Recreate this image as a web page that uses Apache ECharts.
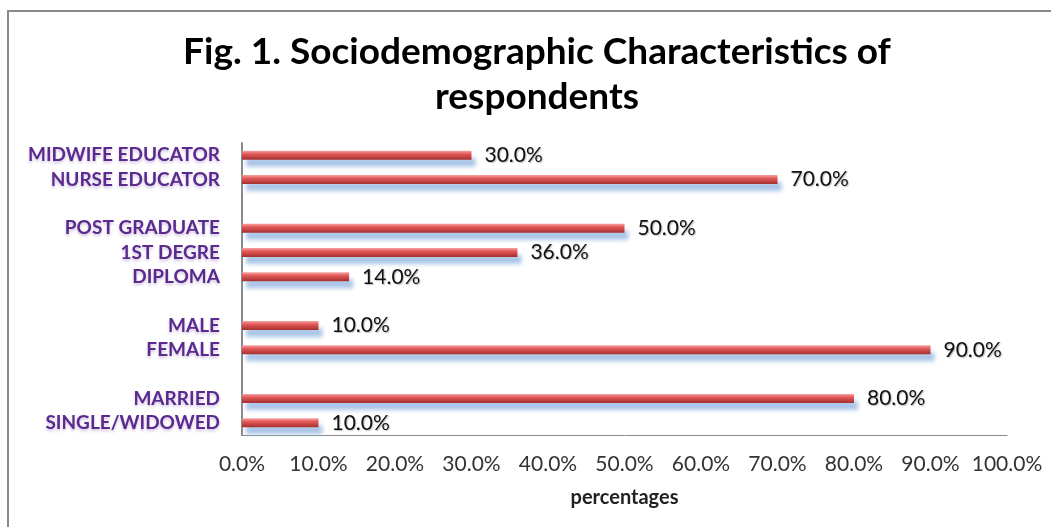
<!DOCTYPE html>
<html>
<head>
<meta charset="utf-8">
<script src="https://cdn.jsdelivr.net/npm/echarts@6/dist/echarts.min.js"></script>
<style>
html,body{margin:0;padding:0;background:#fff;}
#chart{width:1051px;height:527px;}
</style>
</head>
<body>
<div id="chart"></div>
<script>
// Categories bottom-to-top (gaps are blank categories)
const categories = ['SINGLE/WIDOWED', 'MARRIED', ' ', 'FEMALE', 'MALE', '  ', 'DIPLOMA', '1ST DEGRE', 'POST GRADUATE', '   ', 'NURSE EDUCATOR', 'MIDWIFE EDUCATOR'];
const values = [10, 80, null, 90, 10, null, 14, 36, 50, null, 70, 30];
const xTicks = { min: 0, max: 100, interval: 10 };
const titleText = 'Fig. 1. Sociodemographic Characteristics of\nrespondents';
const axisName = 'percentages';

const chart = echarts.init(document.getElementById('chart'));
const pct = v => Number(v).toFixed(1) + '%';

chart.setOption({
  animation: false,
  backgroundColor: '#fff',
  graphic: [
    { type: 'rect', shape: { x: 8, y: 11, width: 1200, height: 700 }, style: { fill: 'none', stroke: '#8a8a8a', lineWidth: 2 }, silent: true },
    { type: 'text', x: 537, y: 75, style: { text: titleText, textAlign: 'center', textVerticalAlign: 'middle', fontFamily: 'Lato', fontWeight: 'bold', fontSize: 37, lineHeight: 45, fill: '#000' } }
  ],
  grid: { left: 242, right: 44, top: 143, bottom: 92, containLabel: false },
  xAxis: {
    type: 'value', min: xTicks.min, max: xTicks.max, interval: xTicks.interval,
    name: axisName, nameLocation: 'middle', nameGap: 53,
    nameTextStyle: { fontFamily: 'Lato', fontWeight: 'bold', fontSize: 20, color: '#222' },
    axisLine: { show: true, lineStyle: { color: '#8a8a8a', width: 1 } },
    axisTick: { show: false },
    splitLine: { show: false },
    axisLabel: { formatter: pct, margin: 19, fontFamily: 'Lato', fontSize: 21, color: '#333' }
  },
  yAxis: {
    type: 'category', data: categories,
    axisLine: { show: true, lineStyle: { color: '#8a8a8a', width: 2 } },
    axisTick: { show: false },
    axisLabel: { interval: 0, hideOverlap: false, margin: 22, fontFamily: 'Lato', fontWeight: 'bold', fontSize: 19, lineHeight: 20, color: '#5a2a8e',
      textShadowColor: 'rgba(120,80,160,0.35)', textShadowBlur: 3, textShadowOffsetY: 2 }
  },
  series: [{
    type: 'bar',
    data: values,
    barWidth: 9,
    itemStyle: {
      color: new echarts.graphic.LinearGradient(0, 0, 0, 1, [
        { offset: 0, color: '#f6a3a3' },
        { offset: 0.35, color: '#e45a5a' },
        { offset: 1, color: '#a52e2e' }
      ]),
      shadowColor: 'rgba(160,190,228,0.9)',
      shadowOffsetX: 4, shadowOffsetY: 7, shadowBlur: 4
    },
    label: {
      show: true, position: 'right', distance: 13, formatter: p => pct(p.value),
      fontFamily: 'Lato', fontSize: 21, color: '#111',
      textShadowColor: 'rgba(0,0,0,0.25)', textShadowBlur: 1, textShadowOffsetX: 1, textShadowOffsetY: 1
    }
  }]
});
</script>
</body>
</html>
